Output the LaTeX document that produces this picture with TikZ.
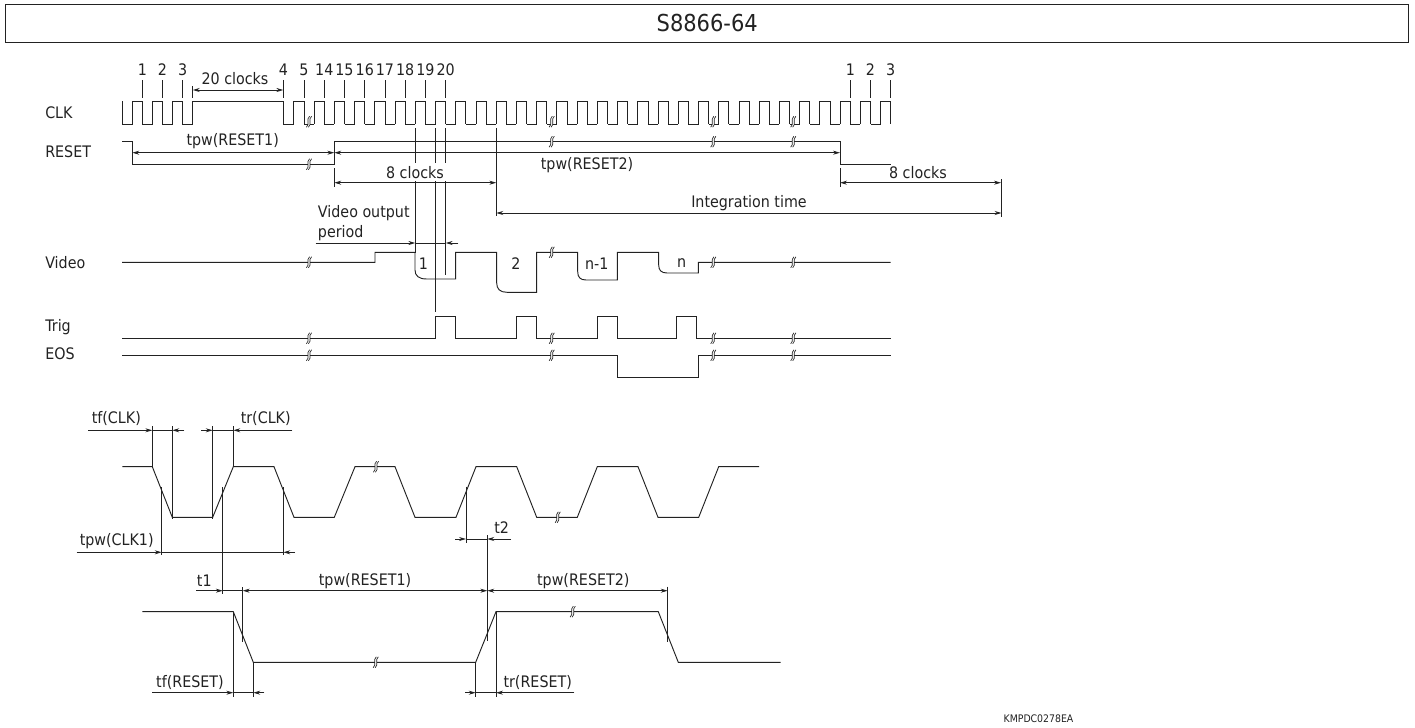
\documentclass[tikz,border=0pt]{standalone}
\usepackage{fontspec}
\setmainfont[FakeStretch=0.9]{DejaVu Sans}
\usepackage{xcolor}
\usetikzlibrary{arrows.meta}
\definecolor{ink}{HTML}{222222}
\tikzset{
    every picture/.style={line cap=butt,line join=miter},
    sig/.style={draw=ink,line width=0.7pt},
    guide/.style={draw=ink,line width=0.65pt},
    dim/.style={draw=ink,line width=0.65pt},
    dimtip/.style={-{Stealth[length=5.2pt,width=3pt]},dim},
    dimboth/.style={{Stealth[length=5.2pt,width=3pt]}-{Stealth[length=5.2pt,width=3pt]},dim},
    lab/.style={text=ink,font=\fontsize{11.9}{14}\selectfont,inner sep=0pt},
    brk/.pic={
      \fill[white] (-1,-3) rectangle (1,3);
      \foreach \o in {-1,1}
        \draw[ink,line width=0.5pt,xshift=\o*0.75pt] (1.6,-5.5) .. controls (-2.2,-2.5) and (2.2,2.5) .. (-1.6,5.5);
    }
}
\begin{document}
\begin{tikzpicture}[x=0.75pt,y=-0.75pt]
  \useasboundingbox (0,0) rectangle (1415,728);
  % title
  \node[draw=ink,line width=0.75pt,minimum width=1402.5*0.75pt,minimum height=38*0.75pt,inner sep=0pt,
    font=\fontsize{17.5}{20}\selectfont,text=ink] (title) at (707.2,23) {S8866-64};
  \node[lab,font=\fontsize{7.8}{9}\selectfont] (docno) at (1038.5,719) {KMPDC0278EA};

  % signal names
  \node[lab,anchor=west] (lclk) at (45,113) {CLK};
  \node[lab,anchor=west] (lreset) at (45,152) {RESET};
  \node[lab,anchor=west] (lvideo) at (45,263) {Video};
  \node[lab,anchor=west] (ltrig) at (45,327.5) {Trig};
  \node[lab,anchor=west] (leos) at (45,354) {EOS};

  % clock numbers
  \foreach \num/\xx in {1/142.3,2/162.5,3/182.7,4/283.3,5/304,14/324.3,15/344.5,16/364.8,17/385,18/405.2,19/425.5,20/445.7}{
    \node[lab] (n\num) at (\xx,70) {\num};
    \draw[guide] (\xx,80)--(\xx,97.7);
  }
  \foreach \num/\xx in {1/850.3,2/870.5,3/890.7}{
    \node[lab] (m\num) at (\xx,70) {\num};
    \draw[guide] (\xx,80)--(\xx,97.7);
  }

  % CLK
  \draw[sig] (122,101)--(122,124)--(132,124)--(132,101)--(142.3,101)--(142.3,124)--(152.4,124)--(152.4,101)
    --(162.5,101)--(162.5,124)--(172.6,124)--(172.6,101)--(182.7,101)--(182.7,124)--(192.8,124)--(192.8,101)
    --(283.3,101)--(283.3,124)--(293.7,124)--(293.7,101)--(304,101)--(304,124)--(314.2,124);
  \foreach \k in {0,...,28}{
    \pgfmathsetmacro\xf{324.3+20.23*\k}
    \pgfmathsetmacro\xr{\xf-10.11}
    \draw[sig] (\xr,124)--(\xr,101)--(\xf,101)--(\xf,124);
  }
  \foreach \k in {0,...,27}{
    \pgfmathsetmacro\xf{324.3+20.23*\k}
    \pgfmathsetmacro\xr{\xf+10.11}
    \draw[sig] (\xf,124)--(\xr,124);
  }
  % RESET
  \draw[sig] (122,141.7)--(132.3,141.7)--(132.3,164.3)--(334.3,164.3)--(334.3,141.7)--(840,141.7)--(840,164.3)--(890.7,164.3);
  % Video
  \draw[sig] (122,262.3)--(375,262.3)--(375,252.3)--(415,252.3)--(415,270) .. controls (415,276) and (419,279) .. (426.7,279)
    --(455.7,279)--(455.7,252.3)--(496.7,252.3)--(496.7,283) .. controls (496.7,289) and (500,292.3) .. (507,292.3)
    --(536.7,292.3)--(536.7,252.3)--(577.7,252.3)--(577.7,271.5) .. controls (577.7,277) and (580,280) .. (586,280)
    --(617.3,280)--(617.3,252.3)--(658.7,252.3)--(658.7,265) .. controls (658.7,270) and (661,273) .. (667,273)
    --(698.3,273)--(698.3,262.3)--(890.7,262.3);
  % Trig
  \draw[sig] (122,338.3)--(435.5,338.3)--(435.5,316)--(455.7,316)--(455.7,338.3)--(516.7,338.3)--(516.7,316)--(536.7,316)
    --(536.7,338.3)--(597.3,338.3)--(597.3,316)--(617.5,316)--(617.5,338.3)--(676.3,338.3)--(676.3,316)--(696.7,316)
    --(696.7,338.3)--(890.7,338.3);
  % EOS
  \draw[sig] (122,355.3)--(617.5,355.3)--(617.5,377.7)--(698.3,377.7)--(698.3,355.3)--(890.7,355.3);

  % breaks in the upper chart
  \foreach \xx/\yy in {309/121.7,551.7/121.7,713.3/121.7,793.3/121.7,309/164.3,551.7/141.7,713.3/141.7,793.3/141.7}
    \pic at (\xx,\yy) {brk};
  \foreach \xx in {309,551.7,713.3,793.3}{
    \pic at (\xx,338.3) {brk};
    \pic at (\xx,355.3) {brk};
  }
  \foreach \xx/\yy in {309/262.3,551.7/252.3,713.3/262.3,793.3/262.3}
    \pic at (\xx,\yy) {brk};

  % upper dimensions
  \draw[guide] (192.8,86)--(192.8,97.7);
  \draw[guide] (283.3,86)--(283.3,97.7);
  \draw[dimboth] (192.8,90)--(283.3,90);
  \node[lab] (d20) at (235,79) {20 clocks};
  \draw[dimboth] (132.3,152.7)--(334.3,152.7);
  \node[lab] (dr1) at (232.7,141.5) {tpw(RESET1)};
  \draw[dimboth] (334.3,152.7)--(840,152.7);
  \node[lab] (dr2) at (587,165) {tpw(RESET2)};
  \draw[guide] (334.3,168)--(334.3,186.7);
  \draw[dimboth] (334.3,182.7)--(496.3,182.7);
  \node[lab] (d8a) at (415,173) {8 clocks};
  \draw[guide] (840,168)--(840,186.7);
  \draw[dimboth] (840,182.7)--(1001,182.7);
  \node[lab] (d8b) at (918,173) {8 clocks};
  \draw[guide] (496.3,128.3)--(496.3,215.7);
  \draw[guide] (1001.5,179)--(1001.5,216.5);
  \draw[dimboth] (496.3,213)--(1001.5,213);
  \node[lab] (dint) at (749,203) {Integration time};
  \draw[guide] (415.3,128.3)--(415.3,163.3) (415.3,181)--(415.3,253);
  \draw[guide] (435.5,128.3)--(435.5,163.3) (435.5,181)--(435.5,311.7);
  \draw[guide] (445.7,128.3)--(445.7,163.3) (445.7,181)--(445.7,275);
  \node[lab,anchor=west] (dvo1) at (317.7,213) {Video output};
  \node[lab,anchor=west] (dvo2) at (317.7,232.7) {period};
  \draw[dimtip] (315.7,243)--(415.3,243);
  \draw[dimtip] (458.3,243)--(445.7,243);
  \draw[dim] (415.3,243)--(445.7,243);
  \node[lab] (v1) at (423.3,263.5) {1};
  \node[lab] (v2) at (516,263.5) {2};
  \node[lab] (vn1) at (596.7,263.5) {n-1};
  \node[lab] (vn) at (681.7,263.5) {n};

  % lower CLK
  \draw[sig] (122.3,466.7)--(152.3,466.7)--(172.3,517.3)--(212.7,517.3)--(233.3,466.7)--(274,466.7)--(294,517.3)--(334.3,517.3)
    --(355,466.7)--(395,466.7)--(415,517.3)--(456,517.3)--(476,466.7)--(516.7,466.7)--(536.7,517.3)--(577.3,517.3)
    --(597.3,466.7)--(638,466.7)--(658,517.3)--(698.7,517.3)--(718.7,466.7)--(759,466.7);
  \pic at (376,466.7) {brk};
  \pic at (557.7,517.3) {brk};
  % lower RESET
  \draw[sig] (142.3,611.7)--(233.3,611.7)--(253.3,662.3)--(475.7,662.3)--(496,611.7)--(658.3,611.7)--(678.3,662.3)--(780.7,662.3);
  \pic at (375.7,662.3) {brk};
  \pic at (572.7,611.7) {brk};

  % lower dimensions
  \draw[guide] (152.3,426)--(152.3,466.7) (172.3,426)--(172.3,519);
  \draw[guide] (212.7,426)--(212.7,519) (233.3,426)--(233.3,466.7);
  \draw[dimtip] (88.3,430.3)--(152.3,430.3);
  \draw[dimtip] (184.3,430.3)--(172.3,430.3);
  \draw[dim] (152.3,430.3)--(172.3,430.3);
  \node[lab] (dtf) at (116.3,419) {tf(CLK)};
  \draw[dimtip] (201,430.3)--(212.7,430.3);
  \draw[dimtip] (292.3,430.3)--(233.3,430.3);
  \draw[dim] (212.7,430.3)--(233.3,430.3);
  \node[lab] (dtr) at (265.7,419) {tr(CLK)};

  \draw[guide] (161.7,487.3)--(161.7,555) (283.3,487.3)--(283.3,555);
  \draw[dimtip] (76.7,552.3)--(161.7,552.3);
  \draw[dimtip] (295,552.3)--(283.3,552.3);
  \draw[dim] (161.7,552.3)--(283.3,552.3);
  \node[lab] (dpw) at (116.7,541) {tpw(CLK1)};

  \draw[guide] (222.8,487.3)--(222.8,594);
  \draw[dimtip] (196,590.7)--(222.8,590.7);
  \draw[dim] (222.8,590.7)--(242.7,590.7);
  \node[lab] (dt1) at (204.3,581) {t1};
  \draw[guide] (242.7,587.3)--(242.7,641.7);
  \draw[dimboth] (242.7,590.7)--(487.3,590.7);
  \node[lab] (dpr1) at (365,581) {tpw(RESET1)};
  \draw[guide] (487.3,535)--(487.3,641);
  \draw[dimboth] (487.3,590.7)--(667.7,590.7);
  \node[lab] (dpr2) at (583.3,581) {tpw(RESET2)};
  \draw[guide] (667.7,586.7)--(667.7,641.7);

  \draw[guide] (466,486.7)--(466,542.7);
  \draw[dimtip] (455,539)--(466,539);
  \draw[dimtip] (511,539)--(487.3,539);
  \draw[dim] (466,539)--(487.3,539);
  \node[lab] (dt2) at (501.7,527.3) {t2};

  \draw[guide] (233.3,611.7)--(233.3,696.7) (253.3,662.3)--(253.3,696.7);
  \draw[dimtip] (152.3,692.7)--(233.3,692.7);
  \draw[dimtip] (264.3,692.7)--(253.3,692.7);
  \draw[dim] (233.3,692.7)--(253.3,692.7);
  \node[lab] (dfr) at (190,682.5) {tf(RESET)};
  \draw[guide] (475.7,662.3)--(475.7,696.7) (496,611.7)--(496,696.7);
  \draw[dimtip] (465,692.7)--(475.7,692.7);
  \draw[dimtip] (574.3,692.7)--(496,692.7);
  \draw[dim] (475.7,692.7)--(496,692.7);
  \node[lab] (drr) at (537.7,682.5) {tr(RESET)};
\end{tikzpicture}
\end{document}
